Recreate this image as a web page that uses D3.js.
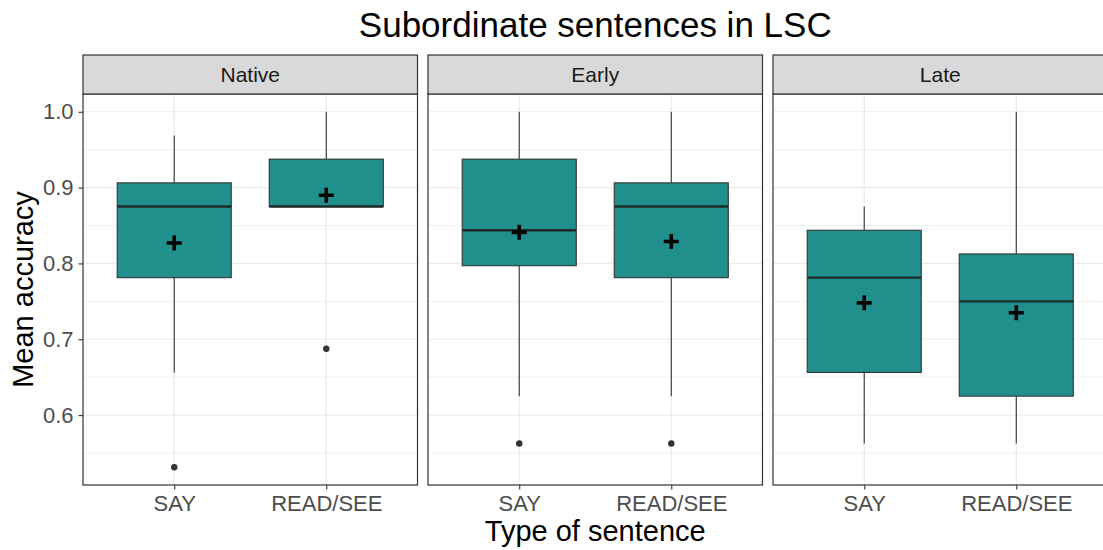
<!DOCTYPE html>
<html>
<head>
<meta charset="utf-8">
<script src="https://cdn.jsdelivr.net/npm/d3@7"></script>
<style>
  html, body { margin: 0; padding: 0; background: #fff; }
  svg { display: block; font-family: "Liberation Sans", Arial, sans-serif; }
</style>
</head>
<body>
<svg id="chart" width="1103" height="550"></svg>
<script>
// ---- data ----
const groups = ["Native", "Early", "Late"];
const types = ["SAY", "READ/SEE"];
// per group, per type: [SAY, READ/SEE]
const whiskerLow  = { Native: [0.65625, 0.875],  Early: [0.625, 0.625],     Late: [0.5625, 0.5625] };
const q1          = { Native: [0.78125, 0.875],  Early: [0.797, 0.78125],   Late: [0.65625, 0.625] };
const median      = { Native: [0.875, 0.875],    Early: [0.84375, 0.875],   Late: [0.78125, 0.75] };
const q3          = { Native: [0.90625, 0.9375], Early: [0.9375, 0.90625],  Late: [0.84375, 0.8125] };
const whiskerHigh = { Native: [0.96875, 1.0],    Early: [1.0, 1.0],         Late: [0.875, 1.0] };
const means       = { Native: [0.827, 0.890],    Early: [0.841, 0.829],     Late: [0.748, 0.735] };
const outliers    = { Native: [[0.53125], [0.6875]], Early: [[0.5625], [0.5625]], Late: [[], []] };
const yTicks = [0.6, 0.7, 0.8, 0.9, 1.0];
const yMinor = [0.55, 0.65, 0.75, 0.85, 0.95];

const titleText = "Subordinate sentences in LSC";
const xTitle = "Type of sentence";
const yTitle = "Mean accuracy";

// ---- layout ----
const svg = d3.select("#chart");
const panelTop = 94, panelBottom = 485, stripTop = 55;
const plotLeft = 83, plotRight = 1107.5;
const fillColor = "#21908C";
const dark = "#333333";

// y domain like ggplot: data range expanded by 5%
const allVals = [];
groups.forEach(g => {
  types.forEach((t, i) => {
    allVals.push(whiskerLow[g][i], whiskerHigh[g][i], ...outliers[g][i]);
  });
});
const [dmin, dmax] = d3.extent(allVals);
const pad = (dmax - dmin) * 0.05;
const y = d3.scaleLinear().domain([dmin - pad, dmax + pad]).range([panelBottom, panelTop]);

const fx = d3.scaleBand().domain(groups).range([plotLeft, plotRight]).paddingInner(10.5 / 345).paddingOuter(0);
const pw = fx.bandwidth();
const x = d3.scalePoint().domain(types).range([0, pw]).padding(0.6);
const step = pw / 2.2;
const boxW = 0.75 * step;

// title
svg.append("text")
  .attr("x", (plotLeft + plotRight) / 2).attr("y", 37)
  .attr("text-anchor", "middle")
  .attr("font-size", 35).attr("fill", "#000")
  .text(titleText);

groups.forEach((g, gi) => {
  const px = fx(g);
  const p = svg.append("g").attr("transform", `translate(${px},0)`);

  // panel background
  p.append("rect").attr("x", 0).attr("y", panelTop).attr("width", pw).attr("height", panelBottom - panelTop).attr("fill", "#fff");

  // minor grid
  p.selectAll(".minor").data(yMinor).enter().append("line")
    .attr("x1", 0).attr("x2", pw)
    .attr("y1", d => y(d)).attr("y2", d => y(d))
    .attr("stroke", "#ebebeb").attr("stroke-width", 0.8);
  // major grid
  p.selectAll(".major").data(yTicks).enter().append("line")
    .attr("x1", 0).attr("x2", pw)
    .attr("y1", d => y(d)).attr("y2", d => y(d))
    .attr("stroke", "#ebebeb").attr("stroke-width", 1.2);
  p.selectAll(".vmajor").data(types).enter().append("line")
    .attr("x1", d => x(d)).attr("x2", d => x(d))
    .attr("y1", panelTop).attr("y2", panelBottom)
    .attr("stroke", "#ebebeb").attr("stroke-width", 1.2);

  types.forEach((t, i) => {
    const cx = x(t);
    // whiskers
    p.append("line").attr("x1", cx).attr("x2", cx)
      .attr("y1", y(whiskerHigh[g][i])).attr("y2", y(q3[g][i]))
      .attr("stroke", dark).attr("stroke-width", 1.1);
    p.append("line").attr("x1", cx).attr("x2", cx)
      .attr("y1", y(q1[g][i])).attr("y2", y(whiskerLow[g][i]))
      .attr("stroke", dark).attr("stroke-width", 1.1);
    // box
    p.append("rect")
      .attr("x", cx - boxW / 2).attr("width", boxW)
      .attr("y", y(q3[g][i])).attr("height", y(q1[g][i]) - y(q3[g][i]))
      .attr("fill", fillColor).attr("stroke", dark).attr("stroke-width", 1.1);
    // median
    p.append("line")
      .attr("x1", cx - boxW / 2).attr("x2", cx + boxW / 2)
      .attr("y1", y(median[g][i])).attr("y2", y(median[g][i]))
      .attr("stroke", "#1f2a2a").attr("stroke-width", 2.4);
    // outliers
    p.selectAll(null).data(outliers[g][i]).enter().append("circle")
      .attr("cx", cx).attr("cy", d => y(d)).attr("r", 3.2)
      .attr("fill", dark);
    // mean cross
    const my = y(means[g][i]);
    const h = 7.5;
    p.append("path")
      .attr("d", `M${cx - h},${my}H${cx + h}M${cx},${my - h}V${my + h}`)
      .attr("stroke", "#000").attr("stroke-width", 3.6).attr("fill", "none");
  });

  // panel border
  p.append("rect").attr("x", 0).attr("y", panelTop).attr("width", pw).attr("height", panelBottom - panelTop)
    .attr("fill", "none").attr("stroke", dark).attr("stroke-width", 1.2);

  // strip
  p.append("rect").attr("x", 0).attr("y", stripTop).attr("width", pw).attr("height", panelTop - stripTop)
    .attr("fill", "#d9d9d9").attr("stroke", dark).attr("stroke-width", 1.2);
  p.append("text").attr("x", pw / 2).attr("y", (stripTop + panelTop) / 2)
    .attr("dy", "0.35em").attr("text-anchor", "middle")
    .attr("font-size", 21).attr("fill", "#1a1a1a").text(g);

  // x axis
  const xa = p.append("g").attr("transform", `translate(0,${panelBottom})`)
    .call(d3.axisBottom(x).tickSize(4.5).tickPadding(6));
  xa.select(".domain").remove();
  xa.selectAll(".tick line").attr("stroke", dark).attr("stroke-width", 1.1);
  xa.selectAll(".tick text").attr("font-size", 22).attr("fill", "#4d4d4d")
    .attr("font-family", "'Liberation Sans', Arial, sans-serif");

  if (gi === 0) {
    const ya = p.append("g")
      .call(d3.axisLeft(y).tickValues(yTicks).tickFormat(d3.format(".1f")).tickSize(4.5).tickPadding(5));
    ya.select(".domain").remove();
    ya.selectAll(".tick line").attr("stroke", dark).attr("stroke-width", 1.1);
    ya.selectAll(".tick text").attr("font-size", 22).attr("fill", "#4d4d4d")
      .attr("font-family", "'Liberation Sans', Arial, sans-serif");
  }
});

// axis titles
svg.append("text")
  .attr("x", (plotLeft + plotRight) / 2).attr("y", 541)
  .attr("text-anchor", "middle").attr("font-size", 29).attr("fill", "#000")
  .text(xTitle);
svg.append("text")
  .attr("transform", `translate(33,${(panelTop + panelBottom) / 2}) rotate(-90)`)
  .attr("text-anchor", "middle").attr("font-size", 29).attr("fill", "#000")
  .text(yTitle);
</script>
</body>
</html>
